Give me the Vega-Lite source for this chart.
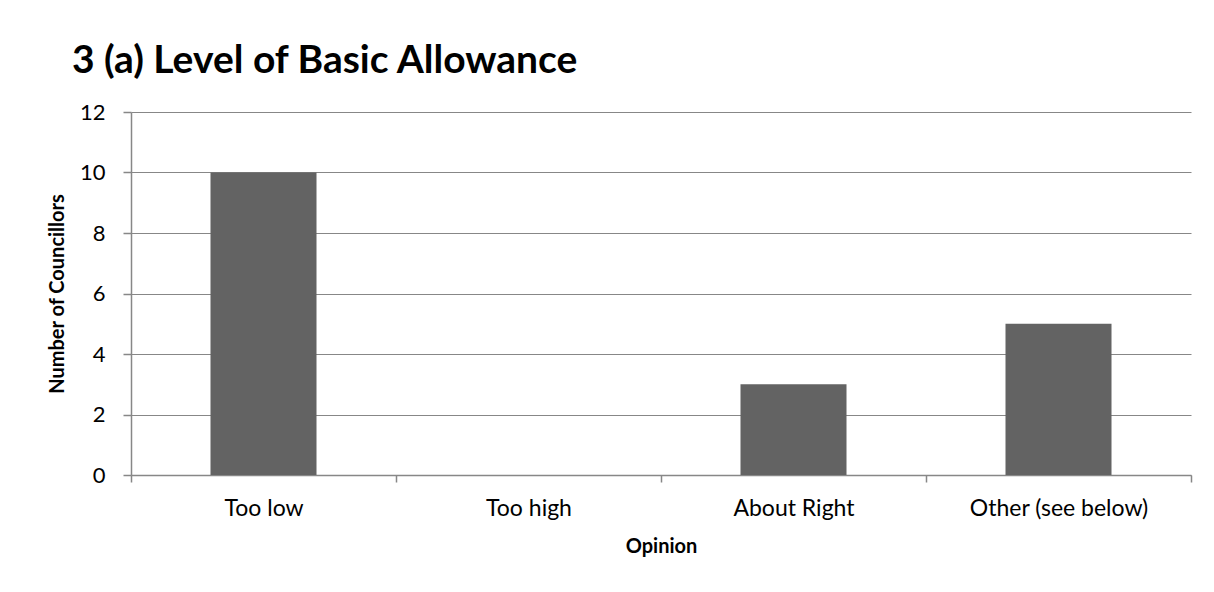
{
  "$schema": "https://vega.github.io/schema/vega-lite/v6.json",
  "autosize": "none",
  "width": 1060,
  "height": 363,
  "padding": {"left": 131, "top": 112, "right": 23, "bottom": 117},
  "background": "white",
  "title": {
    "text": "3 (a) Level of Basic Allowance",
    "anchor": "start",
    "frame": "group",
    "dx": -59,
    "offset": 20,
    "font": "Lato",
    "fontSize": 39,
    "fontWeight": "bold",
    "color": "#000000"
  },
  "data": {
    "values": [
      {"opinion": "Too low", "count": 10},
      {"opinion": "Too high", "count": 0},
      {"opinion": "About Right", "count": 3},
      {"opinion": "Other (see below)", "count": 5}
    ]
  },
  "mark": {"type": "bar", "color": "#636363", "width": {"band": 0.4}},
  "encoding": {
    "x": {
      "field": "opinion",
      "type": "nominal",
      "sort": null,
      "scale": {"paddingInner": 0, "paddingOuter": 0},
      "axis": {
        "title": "Opinion",
        "labelAngle": 0,
        "tickBand": "extent",
        "tickSize": 7,
        "tickColor": "#878787",
        "domainColor": "#878787",
        "domainWidth": 1.5,
        "tickWidth": 1.5,
        "labelFont": "Lato",
        "labelFontSize": 23,
        "labelColor": "#000000",
        "labelPadding": 15,
        "titleFont": "Lato",
        "titleFontSize": 20,
        "titleFontWeight": "bold",
        "titleColor": "#000000",
        "titlePadding": 16
      }
    },
    "y": {
      "field": "count",
      "type": "quantitative",
      "scale": {"domain": [0, 12]},
      "axis": {
        "title": "Number of Councillors",
        "values": [0, 2, 4, 6, 8, 10, 12],
        "format": "d",
        "grid": true,
        "gridColor": "#878787",
        "gridWidth": 1.2,
        "tickSize": 8,
        "tickColor": "#878787",
        "tickWidth": 1.5,
        "domainColor": "#878787",
        "domainWidth": 1.5,
        "labelFont": "Lato",
        "labelFontSize": 22,
        "labelColor": "#000000",
        "labelPadding": 18,
        "titleFont": "Lato",
        "titleFontSize": 20,
        "titleFontWeight": "bold",
        "titleColor": "#000000",
        "titlePadding": 12
      }
    }
  },
  "config": {"view": {"stroke": null}}
}
